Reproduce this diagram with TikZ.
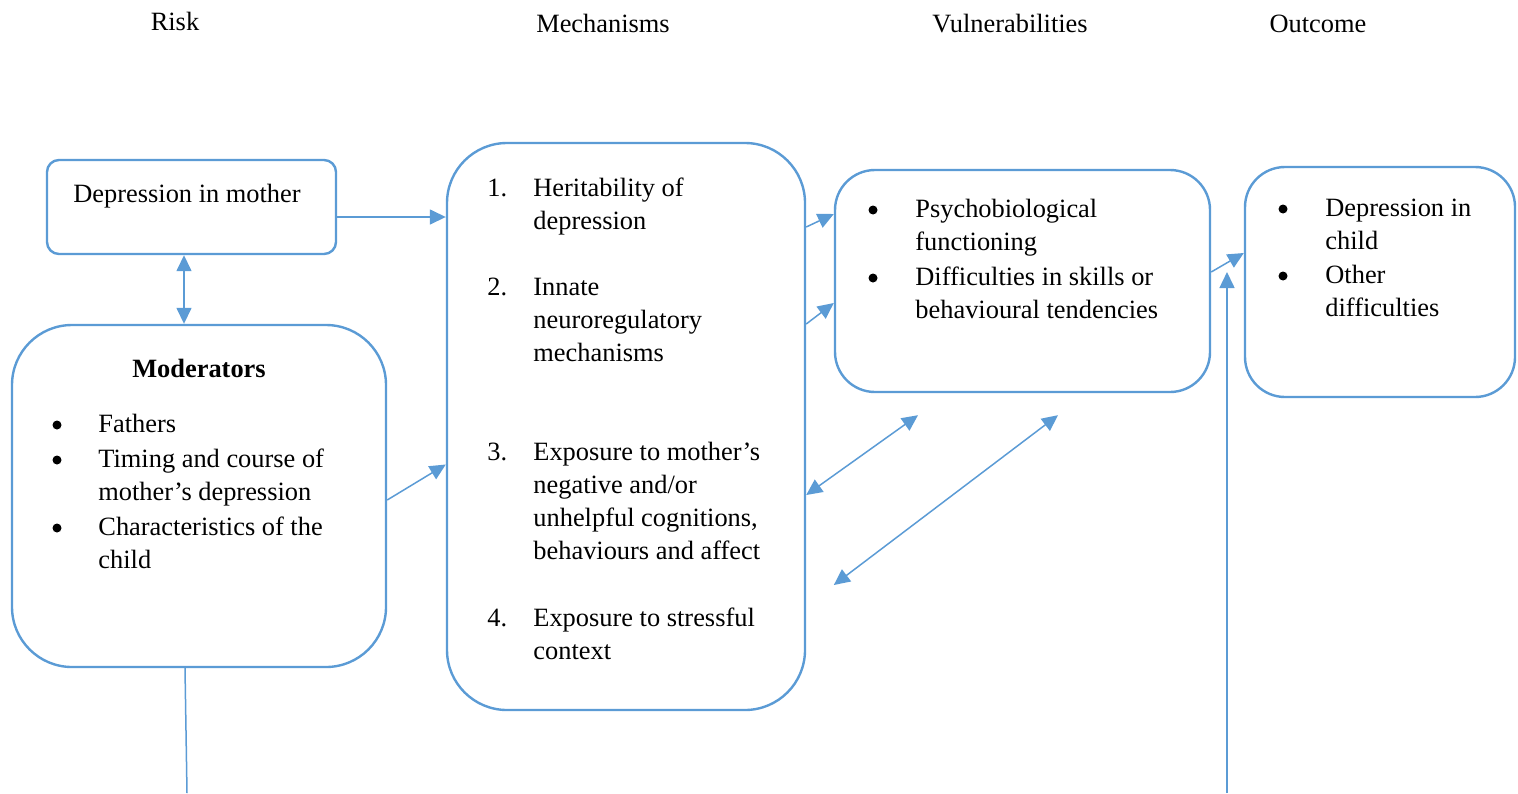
\documentclass[tikz,border=0pt]{standalone}
\usepackage{fontspec}
\setmainfont{Liberation Serif}
\usetikzlibrary{arrows.meta,calc}
\definecolor{boxblue}{RGB}{91,155,213}

\begin{document}
\begin{tikzpicture}[x=0.5pt,y=-0.5pt,
  font=\fontsize{13.2}{16.5}\selectfont,
  box/.style={draw=boxblue,line width=1.2pt,rectangle,inner sep=0pt},
  txt/.style={anchor=base west,inner sep=0pt,align=left},
  dot/.style={circle,fill=black,inner sep=0pt,minimum size=4.5pt},
  conn/.style={draw=boxblue,line width=0.75pt,-{Triangle[length=8pt,width=7.5pt]}},
  both/.style={conn,{Triangle[length=8pt,width=7.5pt]}-{Triangle[length=8pt,width=7.5pt]}}]
\useasboundingbox (0,0) rectangle (1518,793);
% Column headings
\node[anchor=base] (riskhead) at (175,30) {Risk};
\node[anchor=base] (mechhead) at (603,32) {Mechanisms};
\node[anchor=base] (vulnhead) at (1010,32) {Vulnerabilities};
\node[anchor=base] (outhead) at (1318,32) {Outcome};
% Draw boxes
\node[box,rounded corners=6pt,minimum width=144.5pt,minimum height=47pt] (mother) at (191.5,207) {};
\node[box,rounded corners=30pt,minimum width=187pt,minimum height=171pt] (moder) at (199,496) {};
\node[box,rounded corners=30pt,minimum width=179pt,minimum height=283.5pt] (mech) at (626,426.5) {};
\node[box,rounded corners=20pt,minimum width=187.5pt,minimum height=111pt] (vuln) at (1022.5,281) {};
\node[box,rounded corners=20pt,minimum width=135pt,minimum height=115pt] (outcome) at (1380,282) {};
% Risk (multi-line texts sit on their last line)
\node[txt] (mothertxt) at (73,202) {Depression in mother};
\node[anchor=base,inner sep=0pt] (modertxt) at (199,377) {\bfseries Moderators};
\node[dot] (mb1) at (57,425) {};
\node[txt] (fathers) at (98,432) {Fathers};
\node[dot] (mb2) at (57,460) {};
\node[txt] (timing) at (98,500) {Timing and course of\\mother’s depression};
\node[dot] (mb3) at (57,528) {};
\node[txt] (childchar) at (98,568) {Characteristics of the\\child};
% Mechanisms
\node[txt] (n1) at (487,196) {1.};
\node[txt] (herit) at (533,229) {Heritability of\\depression};
\node[txt] (n2) at (487,295) {2.};
\node[txt] (innate) at (533,361) {Innate\\neuroregulatory\\mechanisms};
\node[txt] (n3) at (487,460) {3.};
\node[txt] (expmother) at (533,559) {Exposure to mother’s\\negative and/or\\unhelpful cognitions,\\behaviours and affect};
\node[txt] (n4) at (487,626) {4.};
\node[txt] (expstress) at (533,659) {Exposure to stressful\\context};
% Vulnerabilities
\node[dot] (vb1) at (873,210) {};
\node[txt] (psycho) at (915,250) {Psychobiological\\functioning};
\node[dot] (vb2) at (873,278) {};
\node[txt] (skills) at (915,318) {Difficulties in skills or\\behavioural tendencies};
% Outcome
\node[dot] (ob1) at (1283,209) {};
\node[txt] (depchild) at (1325,249) {Depression in\\child};
\node[dot] (ob2) at (1283,276) {};
\node[txt] (other) at (1325,316) {Other\\difficulties};
% Connectors
\draw[conn] ($(mother.east)+(0,10)$) -- ($(mother.east -| mech.west)+(0,10)$);
\draw[both] ($(mother.south)+(-7.5,0)$) -- ($(mother.south |- moder.north)+(-7.5,0)$);
\draw[conn] ($(moder.east)+(0,4)$) -- ($(mech.west)+(0,38)$);
\draw[conn] ($(mech.east)+(0,-199.5)$) -- ($(vuln.west)+(0,-67)$);
\draw[conn] ($(mech.east)+(0,-102.5)$) -- ($(vuln.west)+(0,22)$);
\draw[both] ($(mech.east)+(0,68.5)$) -- ($(vuln.south)+(-104.5,22)$);
\draw[both] ($(vuln.west)+(0,304)$) -- ($(vuln.south)+(35.5,22)$);
\draw[conn] ($(vuln.east)+(0,-9)$) -- ($(outcome.west)+(0,-29)$);
% Lines running off the bottom
\coordinate (modend) at (187,793);
\coordinate (outstart) at (1227,793);
\draw[draw=boxblue,line width=0.75pt] ($(moder.south)+(-14,0)$) -- (modend);
\draw[conn] (outstart) -- ($(outstart |- outcome.west)+(0,-10)$);
\end{tikzpicture}
\end{document}
